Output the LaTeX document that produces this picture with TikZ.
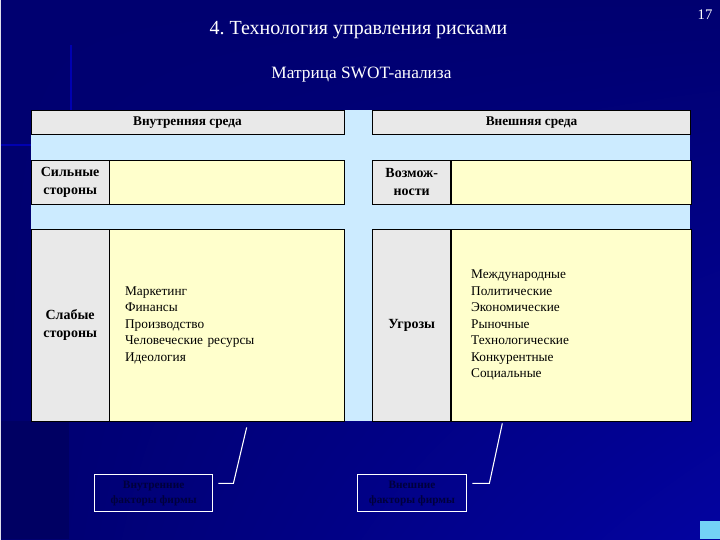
\documentclass[tikz,border=0pt]{standalone}
\usepackage{fontspec}
\setmainfont{Liberation Serif}[BoldFont={Liberation Serif Bold}]
\usepackage{xcolor}
\usetikzlibrary{positioning,shadings}
\definecolor{fondo}{HTML}{000070}
\definecolor{fondob}{HTML}{0303A0}
\definecolor{celeste}{HTML}{CCEBFF}
\definecolor{gris}{HTML}{E9E9E9}
\definecolor{crema}{HTML}{FFFFCC}
\definecolor{tinta}{HTML}{00003C}
\frenchspacing

\begin{document}
\begin{tikzpicture}[x=0.75pt, y=-0.75pt, font=\fontsize{10}{12.4}\selectfont,
      node distance=0pt,
      hdr/.style={draw, fill=gris, minimum height=18pt, anchor=north west,
                  inner sep=0pt, font=\fontsize{10}{12}\selectfont\bfseries},
      lbl/.style={draw, fill=gris, minimum width=58.5pt, anchor=north west,
                  align=center, inner sep=0pt, font=\fontsize{10.5}{13.5}\selectfont\bfseries},
      cel/.style={draw, fill=crema, align=left, inner ysep=0pt},
      nota/.style={draw=white, line width=0.8pt, minimum width=89pt, minimum height=27.75pt,
                   anchor=north west, align=center, text=tinta,
                   font=\fontsize{8.5}{11}\selectfont\bfseries},
      linea/.style={draw=white, line width=0.8pt}]
    % fondo
    \shade[upper left=fondo, lower right=fondob, upper right=fondo, lower left=fondo]
      (0,0) rectangle (720,540);
    \fill[fondo!88!black] (0,422) rectangle (68,540);
    \fill[cyan!55!white] (700,522) rectangle (720,540);
    \draw[blue!45!fondo, line width=1.5pt] (70,45) -- (70,130);
    \draw[blue!45!fondo, line width=1.5pt] (0,145) -- (30,145);
    \useasboundingbox (0,0) rectangle (720,540);
    % titulos
    \node[text=white, font=\fontsize{15}{17}\selectfont] (tit) at (358,30) {4. Технология управления рисками};
    \node[text=white, font=\fontsize{11}{13}\selectfont] (num) at (705,15) {17};
    \node[text=white, font=\fontsize{13}{15}\selectfont] (sub) at (361,75) {Матрица SWOT-анализа};
    % matriz
    \fill[celeste] (30,110) rectangle (690,422);
    \node[hdr, minimum width=234.75pt] (int) at (30,110) {Внутренняя среда};
    \node[hdr, minimum width=238.5pt] (ext) at (372,110) {Внешняя среда};
    \node[lbl, minimum height=33pt] (fue) at (30,160) {Сильные\\стороны};
    \node[cel, minimum width=176.25pt, minimum height=33pt, right=of fue] (fuec) {};
    \node[lbl, minimum height=33pt] (opo) at (372,160) {Возмож-\\ности};
    \node[cel, minimum width=180pt, minimum height=33pt, right=of opo] (opoc) {};
    \node[lbl, minimum height=144.75pt] (deb) at (30,229) {Слабые\\стороны};
    \node[cel, minimum height=144.75pt, text width=153pt, inner xsep=11.6pt, right=of deb] (debc)
      {Маркетинг\\Финансы\\Производство\\Человеческие ресурсы\\Идеология};
    \node[lbl, minimum height=144.75pt] (ame) at (372,229) {Угрозы};
    \node[cel, minimum height=144.75pt, text width=150pt, inner xsep=15pt, right=of ame] (amec)
      {Международные\\Политические\\Экономические\\Рыночные\\Технологические\\Конкурентные\\Социальные};
    % notas
    \node[nota] (nint) at (93,475) {Внутренние\\факторы фирмы};
    \node[nota, minimum width=82.5pt] (next) at (356,475) {Внешние\\факторы фирмы};
    \coordinate (pint) at (246,428);
    \coordinate (pext) at (502,424);
    \draw[linea] ([shift={(5,9)}]nint.north east) -- ++(15,0) -- (pint);
    \draw[linea] ([shift={(5,9)}]next.north east) -- ++(17,0) -- (pext);
\end{tikzpicture}
\end{document}
